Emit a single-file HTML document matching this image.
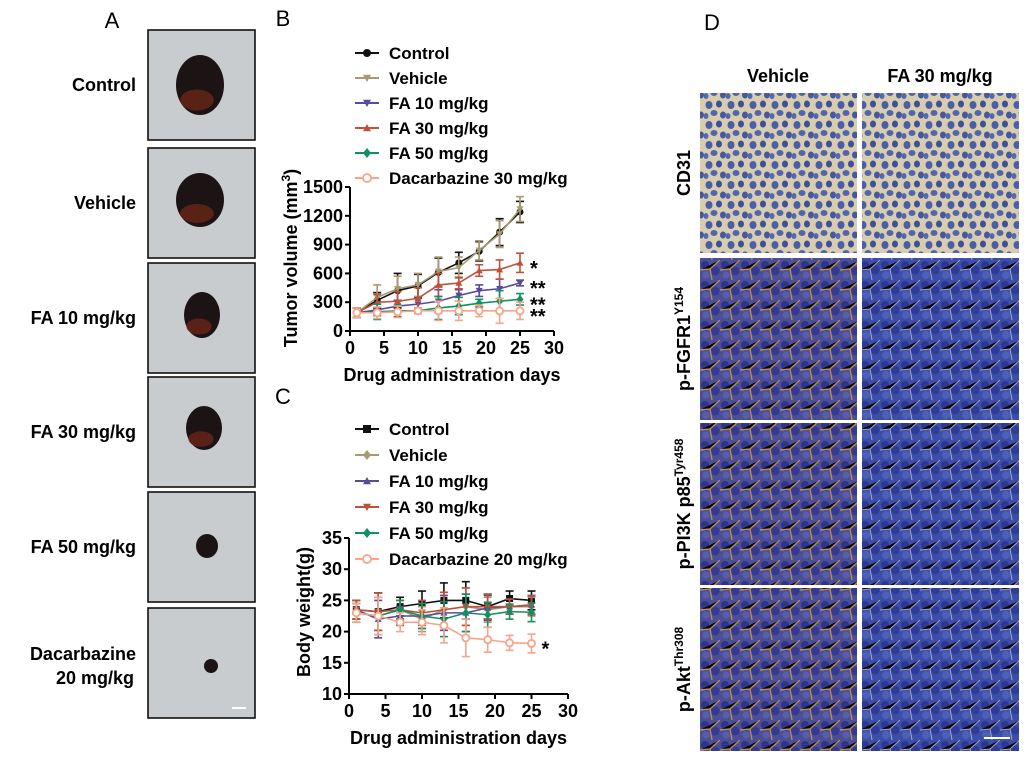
<!DOCTYPE html>
<html><head><meta charset="utf-8"><style>
html,body{margin:0;padding:0;background:#fff;}
svg{display:block;font-family:"Liberation Sans",Arial,sans-serif;}
</style></head><body>
<svg id="fig" width="1024" height="764" viewBox="0 0 1024 764" xmlns="http://www.w3.org/2000/svg">
<defs>
<pattern id="cd31" width="22" height="20" patternUnits="userSpaceOnUse">
<rect width="22" height="20" fill="#d9cdb0"/>
<ellipse cx="5" cy="5" rx="3.5" ry="4" fill="#4a5fa8"/><ellipse cx="15" cy="4" rx="3" ry="3.5" fill="#3b4f9a"/>
<ellipse cx="10" cy="13" rx="3.5" ry="3" fill="#5065ad"/><ellipse cx="19" cy="15" rx="3" ry="3.5" fill="#4557a0"/><ellipse cx="2" cy="16" rx="2.5" ry="3" fill="#5468b0"/>
</pattern>
<pattern id="ihc" width="20" height="20" patternUnits="userSpaceOnUse">
<rect width="20" height="20" fill="#3c4ea8"/>
<circle cx="5" cy="5" r="4" fill="#2a3890"/><circle cx="15" cy="10" r="4.5" fill="#2c3c98"/><circle cx="6" cy="15" r="4" fill="#4c60b8"/>
<path d="M0 10 L10 9 L20 0 M10 9 L12 20" stroke="#a8a6c8" stroke-width="1"/>
</pattern>
<pattern id="ihcb" width="20" height="20" patternUnits="userSpaceOnUse">
<rect width="20" height="20" fill="#4a4f98"/>
<circle cx="5" cy="5" r="4" fill="#2e3488"/><circle cx="15" cy="11" r="4.5" fill="#333a90"/><circle cx="6" cy="15" r="3.5" fill="#5a5ea8"/>
<path d="M0 10 L10 9 L20 0 M10 9 L12 20" stroke="#b98a5c" stroke-width="1.4"/>
</pattern>
</defs>

<!-- Panel A -->
<text x="112" y="28" font-size="22" text-anchor="middle">A</text>
<g id="panelA"></g>

<!-- Panel B -->
<text x="283" y="26" font-size="22" text-anchor="middle">B</text>
<g id="chartB"></g>
<!-- Panel C -->
<text x="283" y="404" font-size="22" text-anchor="middle">C</text>
<g id="chartC"></g>

<!-- Panel D -->
<text x="712" y="30" font-size="22" text-anchor="middle">D</text>
<text x="778" y="82" font-size="18" font-weight="bold" text-anchor="middle">Vehicle</text>
<text x="940" y="82" font-size="18" font-weight="bold" text-anchor="middle">FA 30 mg/kg</text>
<g id="panelD"></g>
</svg>
<script>
var NS='http://www.w3.org/2000/svg';
function mk(tag,attrs,parent,txt){var e=document.createElementNS(NS,tag);for(var k in attrs)e.setAttribute(k,attrs[k]);if(txt!==undefined)e.textContent=txt;parent.appendChild(e);return e;}

// ---------- Data ----------
var days=[1,4,7,10,13,16,19,22,25];
var tumorNames=["Control","Vehicle","FA 10 mg/kg","FA 30 mg/kg","FA 50 mg/kg","Dacarbazine 30 mg/kg"];
var tumorControl=[190,320,420,470,610,710,830,1030,1240];
var tumorVehicle=[190,350,440,480,620,660,840,1010,1270];
var tumorFA10=[190,220,260,280,310,370,420,440,500];
var tumorFA30=[190,300,310,340,480,500,630,640,710];
var tumorFA50=[190,200,210,210,240,260,290,310,330];
var tumorDac=[190,190,200,210,210,210,210,210,210];
var tumorErr=[[50,80,180,120,150,110,100,140,110],[50,130,130,120,150,110,100,140,130],[50,60,60,60,120,60,60,100,30],[50,80,100,110,120,60,60,100,100],[50,80,60,30,120,90,40,110,60],[50,60,60,30,100,100,60,130,90]];
var tumorSig=["","","**","*","**","**"];
var tumorTicksY=[0,300,600,900,1200,1500];
var ticksX=[0,5,10,15,20,25,30];

var bwNames=["Control","Vehicle","FA 10 mg/kg","FA 30 mg/kg","FA 50 mg/kg","Dacarbazine 20 mg/kg"];
var bwControl=[23.5,23.2,24,24.5,25,25,24,25.3,25];
var bwVehicle=[23,22.5,23.5,22,23.5,24,23.5,24,24];
var bwFA10=[23.5,22,22.5,22.5,23,23,23.8,24,24.3];
var bwFA30=[23.5,23.2,23.5,23,23.5,24,24,24,24.2];
var bwFA50=[23,22.5,23.5,22.5,22,23,22.7,23.2,23.1];
var bwDac=[23,22.5,21.5,21.5,21,19,18.7,18.2,18.1];
var bwErr=[1.5,3,1.5,2,2.8,3,2,1.2,1.5];
var bwSig=["","","","","","*"];
var bwTicksY=[10,15,20,25,30,35];

var colors=["#111111","#a89a70","#5a4a9a","#c0503a","#119060","#f4a58a"];
var markers=["circle","tri-down","tri-down","tri-up","diamond","open-circle"];
var markersC=["square","diamond","tri-up","tri-down","diamond","open-circle"];

function marker(g,type,x,y,c,s){
  s=s||4;
  if(type=="circle") mk('circle',{cx:x,cy:y,r:s,fill:c},g);
  else if(type=="open-circle") mk('circle',{cx:x,cy:y,r:s,fill:'#fff',stroke:c,'stroke-width':1.8},g);
  else if(type=="square") mk('rect',{x:x-s,y:y-s,width:2*s,height:2*s,fill:c},g);
  else if(type=="diamond") mk('polygon',{points:(x)+','+(y-s-1)+' '+(x+s)+','+y+' '+x+','+(y+s+1)+' '+(x-s)+','+y,fill:c},g);
  else if(type=="tri-up") mk('polygon',{points:x+','+(y-s)+' '+(x+s)+','+(y+s*0.8)+' '+(x-s)+','+(y+s*0.8),fill:c},g);
  else mk('polygon',{points:x+','+(y+s)+' '+(x+s)+','+(y-s*0.8)+' '+(x-s)+','+(y-s*0.8),fill:c},g);
}

function chart(gid,o){
  var g=document.getElementById(gid);
  function sx(v){return o.x0+(v-o.xmin)/(o.xmax-o.xmin)*(o.x1-o.x0);}
  function sy(v){return o.y0-(v-o.ymin)/(o.ymax-o.ymin)*(o.y0-o.y1);}
  // axes
  var ax=mk('line',{x1:o.x0,y1:o.y0,x2:o.x1,y2:o.y0,stroke:'#000','stroke-width':2},g);
  
  var ay=mk('line',{x1:o.x0,y1:o.y0,x2:o.x0,y2:o.y1,stroke:'#000','stroke-width':2},g);
  
  ticksX.forEach(function(t){
    mk('line',{x1:sx(t),y1:o.y0,x2:sx(t),y2:o.y0+5,stroke:'#000','stroke-width':2},g);
    var tl=mk('text',{x:sx(t),y:o.y0+23,'font-size':18,'font-weight':'bold','text-anchor':'middle'},g,t);
    
  });
  o.ticksY.forEach(function(t){
    mk('line',{x1:o.x0-5,y1:sy(t),x2:o.x0,y2:sy(t),stroke:'#000','stroke-width':2},g);
    var tl=mk('text',{x:o.x0-7,y:sy(t)+6,'font-size':18,'font-weight':'bold','text-anchor':'end'},g,t);
    
  });
  var xt=mk('text',{x:(o.x0+o.x1)/2,y:o.y0+50,'font-size':18,'font-weight':'bold','text-anchor':'middle'},g,'Drug administration days');
  
  var yt=mk('text',{x:0,y:0,'font-size':18,'font-weight':'bold','text-anchor':'middle',transform:'translate('+o.ytx+','+o.yty+') rotate(-90)'},g);
  yt.innerHTML=o.ytitle;
  
  // series
  o.series.forEach(function(s,i){
    var sg=mk('g',{},g);
    
    
    var err=o.err(i);
    s.forEach(function(v,j){
      var x=sx(days[j]),y1=sy(v+err[j]),y2=sy(v-err[j]);
      mk('line',{x1:x,y1:y1,x2:x,y2:y2,stroke:o.colors[i],'stroke-width':1.6},sg);
      mk('line',{x1:x-4,y1:y1,x2:x+4,y2:y1,stroke:o.colors[i],'stroke-width':1.6},sg);
      mk('line',{x1:x-4,y1:y2,x2:x+4,y2:y2,stroke:o.colors[i],'stroke-width':1.6},sg);
    });
    var pts=s.map(function(v,j){return sx(days[j])+','+sy(v);}).join(' ');
    mk('polyline',{points:pts,fill:'none',stroke:o.colors[i],'stroke-width':1.6},sg);
    s.forEach(function(v,j){marker(sg,o.markers[i],sx(days[j]),sy(v),o.colors[i],3.5);});
    if(o.sig[i]){
      var st=mk('text',{x:sx(days[days.length-1])+10,y:sy(s[s.length-1])+12,'font-size':20,'font-weight':'bold'},g,o.sig[i]);
      
    }
    // legend
    var ly=o.ly+i*o.lstep;
    var le=mk('g',{},g);
    
    mk('line',{x1:o.lx-12,y1:ly,x2:o.lx+12,y2:ly,stroke:o.colors[i],'stroke-width':2},le);
    marker(le,o.markers[i],o.lx,ly,o.colors[i],4);
    mk('text',{x:o.lx+22,y:ly+6,'font-size':17,'font-weight':'bold'},le,o.names[i]);
  });
}

chart('chartB',{x0:350,x1:554,y0:331,y1:187,xmin:0,xmax:30,ymin:0,ymax:1500,ticksY:tumorTicksY,
  series:[tumorControl,tumorVehicle,tumorFA10,tumorFA30,tumorFA50,tumorDac],names:tumorNames,
  err:function(i){return tumorErr[i];},sig:tumorSig,colors:colors,markers:markers,
  ytitle:'Tumor volume (mm<tspan dy="-7" font-size="12">3</tspan><tspan dy="7">)</tspan>',ytx:297,yty:258,lx:367,ly:53,lstep:25});
chart('chartC',{x0:349,x1:568,y0:694,y1:538,xmin:0,xmax:30,ymin:10,ymax:35,ticksY:bwTicksY,
  series:[bwControl,bwVehicle,bwFA10,bwFA30,bwFA50,bwDac],names:bwNames,
  err:function(i){return bwErr;},sig:bwSig,colors:colors,markers:markersC,
  ytitle:'Body weight(g)',ytx:310,yty:612,lx:367,ly:429,lstep:26});

// Panel A photos
var pa=document.getElementById('panelA');
var aLabels=[["Control"],["Vehicle"],["FA 10 mg/kg"],["FA 30 mg/kg"],["FA 50 mg/kg"],["Dacarbazine","20 mg/kg"]];
var aTops=[30,148,263,377,492,608];
var blobs=[[200,85,24,30],[200,200,24,27],[202,315,18,23],[204,428,18,22],[207,546,11,12],[211,666,7,7]];
aLabels.forEach(function(l,i){
  var g=mk('g',{},pa);
  
  
  mk('rect',{x:148,y:aTops[i],width:107,height:110,fill:'#c9ccce',stroke:'#111','stroke-width':1.6},g);
  var b=blobs[i];
  mk('ellipse',{cx:b[0],cy:b[1],rx:b[2],ry:b[3],fill:'#1c1414'},g);
  if(i<4) mk('ellipse',{cx:b[0]-3,cy:b[1]+b[3]*0.5,rx:b[2]*0.7,ry:b[3]*0.35,fill:'#6a2418',opacity:0.8},g);
  if(l.length==1){
    var t=mk('text',{x:136,y:aTops[i]+61,'font-size':18,'font-weight':'bold','text-anchor':'end'},pa,l[0]);
  } else {
    var t=mk('text',{x:136,y:aTops[i]+52,'font-size':18,'font-weight':'bold','text-anchor':'end'},pa);
    mk('tspan',{x:136,dy:0},t,l[0]);mk('tspan',{x:134,dy:24},t,l[1]);
  }
  
});
mk('line',{x1:232,y1:708,x2:246,y2:708,stroke:'#fff','stroke-width':2},pa);

// Panel D
var pd=document.getElementById('panelD');
var rows=[[93,160,'CD31',''],[258,162,'p-FGFR1','Y154'],[423,162,'p-PI3K p85','Tyr458'],[588,163,'p-Akt','Thr308']];
rows.forEach(function(r,i){
  [[700,157],[862,157]].forEach(function(c,j){
    var im=mk('rect',{x:c[0],y:r[0],width:c[1],height:r[1],fill:i==0?'url(#cd31)':(j==0?'url(#ihcb)':'url(#ihc)')},pd);
    
    
  });
  var t=mk('text',{x:0,y:0,'font-size':18,'font-weight':'bold','text-anchor':'middle',transform:'translate(690,'+(r[0]+r[1]/2)+') rotate(-90)'},pd);
  t.appendChild(document.createTextNode(r[2]));
  if(r[3]) mk('tspan',{dy:-7,'font-size':12},t,r[3]);
  
});
mk('line',{x1:984,y1:738,x2:1010,y2:738,stroke:'#fff','stroke-width':2},pd);
</script>
</body></html>
